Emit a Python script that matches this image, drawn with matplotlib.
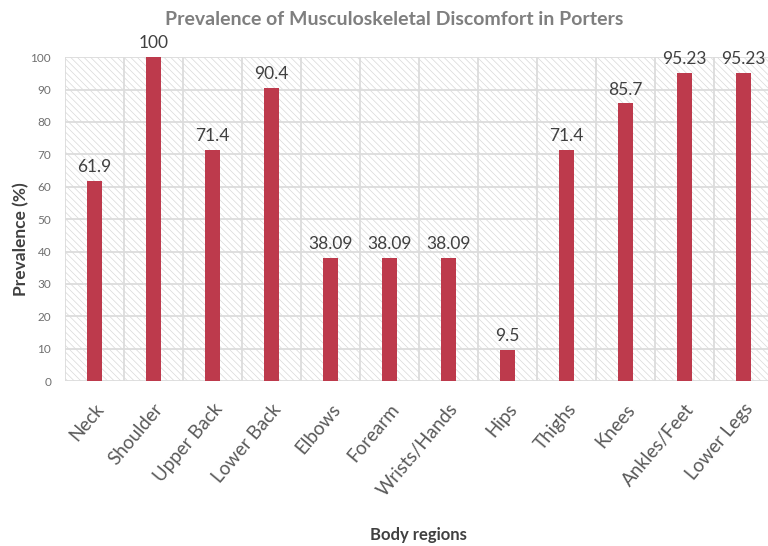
import numpy as np
import matplotlib.pyplot as plt
from matplotlib.patches import Rectangle

plt.rcParams['font.family'] = ['Lato', 'DejaVu Sans']
plt.rcParams['hatch.linewidth'] = 0.5

regions = ["Neck", "Shoulder", "Upper Back", "Lower Back", "Elbows", "Forearm",
           "Wrists/Hands", "Hips", "Thighs", "Knees", "Ankles/Feet", "Lower Legs"]
prevalence = [61.9, 100, 71.4, 90.4, 38.09, 38.09, 38.09, 9.5, 71.4, 85.7, 95.23, 95.23]
value_labels = ["61.9", "100", "71.4", "90.4", "38.09", "38.09", "38.09", "9.5",
                "71.4", "85.7", "95.23", "95.23"]
yticks = list(range(0, 101, 10))

fig = plt.figure(figsize=(7.68, 5.46), dpi=100)
ax = fig.add_axes([0.0846, 0.302, 0.922, 0.5934])

x = np.arange(len(regions))
ax.set_xlim(-0.5, len(regions) - 0.5)
ax.set_ylim(0, 100)

# hatched plot background
ax.add_patch(Rectangle((0, 0), 1, 1, transform=ax.transAxes, facecolor='white',
                       edgecolor='#d8d8d8', hatch='\\\\\\\\\\', linewidth=0, zorder=0))

for b in np.arange(-0.5, len(regions), 1.0):
    ax.axvline(b, color='#dcdcdc', lw=1.3, zorder=1)
for t in yticks:
    ax.axhline(t, color='#dcdcdc', lw=1.3, zorder=1)

ax.bar(x, prevalence, width=0.25, color='#bd3a4c', zorder=3)

for xi, v, lab in zip(x, prevalence, value_labels):
    ax.text(xi, v + 1.8, lab, ha='center', va='bottom', fontsize=12.5,
            color='#404040', zorder=4)

for s in ax.spines.values():
    s.set_visible(False)

ax.set_yticks(yticks)
ax.set_yticklabels([str(t) for t in yticks], fontsize=8.5, color='#6f6f6f')
ax.set_xticks(x)
ax.set_xticklabels(regions, rotation=50, ha='right', rotation_mode='anchor',
                   fontsize=13.5, color='#595959')
ax.tick_params(axis='both', length=0)
ax.tick_params(axis='x', pad=14)
ax.tick_params(axis='y', pad=10)

fig.text(0.513, 0.965, "Prevalence of Musculoskeletal Discomfort in Porters",
         ha='center', va='center', fontsize=14, fontweight='bold', color='#7f7f7f')
fig.text(0.545, 0.02, "Body regions", ha='center', va='center', fontsize=12,
         fontweight='bold', color='#404040')
fig.text(0.028, 0.562, "Prevalence (%)", ha='center', va='center', rotation=90,
         fontsize=12.5, fontweight='bold', color='#404040')

fig.savefig('out.png', dpi=100)
